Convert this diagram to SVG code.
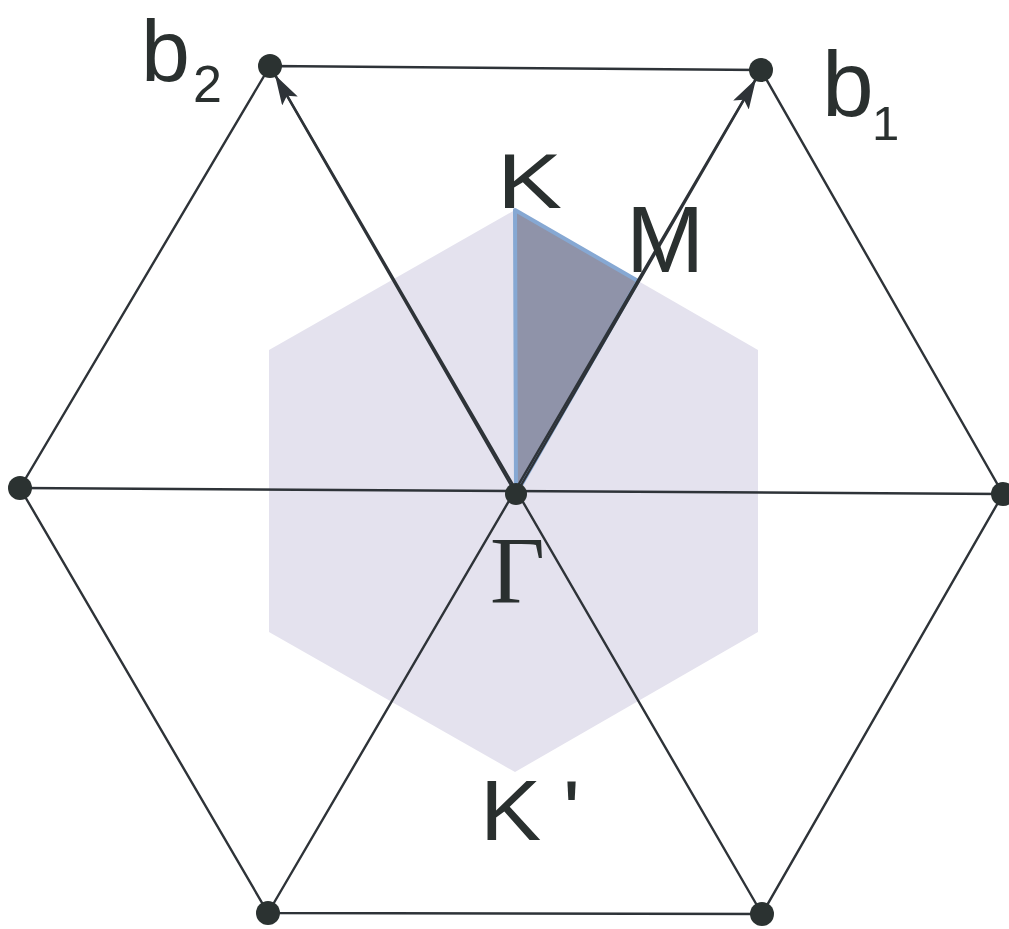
<svg xmlns="http://www.w3.org/2000/svg" width="1009" height="929" viewBox="0 0 1009 929">
<style>
.ln{stroke:#2e3338;stroke-width:2.4;fill:none;stroke-linecap:round}
.dot{fill:#2b3231}
.lbl{font-family:"Liberation Sans",Arial,sans-serif;fill:#2a302f}
.gam{font-family:"Liberation Serif","Times New Roman",serif;fill:#2a302f}
</style>
<defs>
<marker id="ah" markerUnits="userSpaceOnUse" markerWidth="32" markerHeight="20" refX="30" refY="9" orient="auto">
<path d="M0,0 L30,9 L0,18 L6,9 z" fill="#2e3338"/>
</marker>
</defs>
<rect width="1009" height="929" fill="#ffffff"/>
<g id="brillouin-zone">
<polygon points="515,210 758,350 758,632 515,772 269,632 269,350" fill="#e4e2ee"/>
<polygon points="516,494 515,210 638,281" fill="#8f93a9" stroke="#86a8d3" stroke-width="4" stroke-linejoin="round"/>
</g>
<g id="connectors">
<path class="ln" d="M270,66 L761,70 L1003,494 L762,914 L268,913 L20,488 Z"/>
<line class="ln" x1="20" y1="488" x2="1003" y2="494"/>
<line class="ln" x1="270" y1="66" x2="762" y2="914"/>
<line class="ln" x1="761" y1="70" x2="268" y2="913"/>
<line class="ln" x1="516" y1="494" x2="275" y2="75" marker-end="url(#ah)"/>
<line class="ln" x1="516" y1="494" x2="756" y2="79" marker-end="url(#ah)"/>
</g>
<g id="node-b2"><circle class="dot" cx="270" cy="66" r="12"/><text class="lbl" x="141" y="81" font-size="88">b</text><text class="lbl" x="193" y="102" font-size="52">2</text></g>
<g id="node-b1"><circle class="dot" cx="761" cy="70" r="12"/><text class="lbl" x="822" y="116" font-size="93">b</text><text class="lbl" x="872" y="140" font-size="49">1</text></g>
<g id="node-left"><circle class="dot" cx="20" cy="488" r="12"/></g>
<g id="node-right"><circle class="dot" cx="1003" cy="494" r="12"/></g>
<g id="node-bottom-left"><circle class="dot" cx="268" cy="913" r="12"/></g>
<g id="node-bottom-right"><circle class="dot" cx="762" cy="914" r="12"/></g>
<g id="node-gamma"><circle class="dot" cx="516" cy="494" r="11"/><text class="gam" x="490" y="603" font-size="95">Γ</text></g>
<g id="node-K"><text class="lbl" transform="translate(497,208) scale(1.25,1)" x="0" y="0" font-size="78">K</text></g>
<g id="node-M"><text class="lbl" x="626" y="272" font-size="94">M</text></g>
<g id="node-Kprime"><text class="lbl" transform="translate(480,840) scale(1.08,1)" x="0" y="0" font-size="85">K<tspan dx="20">'</tspan></text></g>
</svg>
